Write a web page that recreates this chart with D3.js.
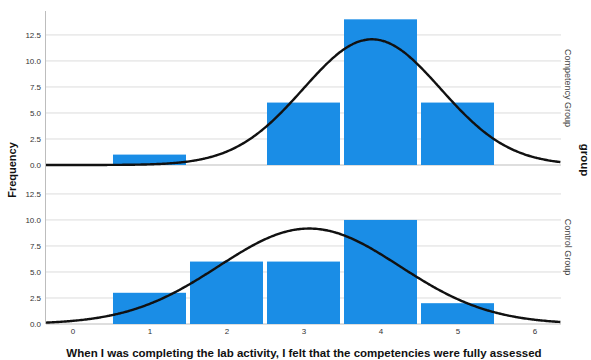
<!DOCTYPE html>
<html>
<head>
<meta charset="utf-8">
<script src="https://cdn.jsdelivr.net/npm/d3@7"></script>
<style>
  html, body { margin: 0; padding: 0; background: #fff; }
  svg { display: block; font-family: "Liberation Sans", Arial, sans-serif; }
</style>
</head>
<body>
<svg id="chart" width="591" height="360"></svg>
<script>
// Response scale values (x) and the frequency of each response per group
const categories = [1, 2, 3, 4, 5];
const groupNames = ["Competency Group", "Control Group"];
const competencyCounts = [1, 0, 6, 14, 6];
const controlCounts = [3, 6, 6, 10, 2];
const xTickValues = [0, 1, 2, 3, 4, 5, 6];
const yTickValues = [0, 2.5, 5, 7.5, 10, 12.5];

const xTitle = "When I was completing the lab activity, I felt that the competencies were fully assessed";
const yTitle = "Frequency";
const panelTitle = "group";

const svg = d3.select("#chart");
const plotLeft = 46, plotRight = 561;
const panels = [
  { name: groupNames[0], counts: competencyCounts, top: 11, bottom: 165 },
  { name: groupNames[1], counts: controlCounts, top: 170, bottom: 324 }
];

const xMin = -0.344, xMax = 6.344;
const x = d3.scaleLinear().domain([xMin, xMax]).range([plotLeft, plotRight]);
const barColor = "#1a8de6";

panels.forEach((p, i) => {
  const y = d3.scaleLinear().domain([0, 14.8]).range([p.bottom, p.top]);
  const g = svg.append("g");

  // horizontal gridlines
  g.selectAll("line.grid").data(yTickValues.filter(v => v > 0)).join("line")
    .attr("x1", plotLeft).attr("x2", plotRight)
    .attr("y1", d => y(d)).attr("y2", d => y(d))
    .attr("stroke", "#dcdcdc").attr("stroke-width", 1);

  // baseline
  g.append("line")
    .attr("x1", plotLeft).attr("x2", plotRight)
    .attr("y1", y(0)).attr("y2", y(0))
    .attr("stroke", "#bdbdbd").attr("stroke-width", 1);

  // y axis labels
  const yAxis = d3.axisLeft(y).tickValues(yTickValues).tickFormat(d3.format(".1f")).tickSize(0).tickPadding(5);
  const ya = g.append("g").attr("transform", `translate(${plotLeft},0)`).call(yAxis);
  ya.select(".domain").remove();
  ya.selectAll("text").attr("font-size", 8).attr("fill", "#333")
    .attr("font-family", "'Liberation Sans', Arial, sans-serif");

  // histogram bars
  const bars = categories.map((c, k) => ({ c, n: p.counts[k] })).filter(d => d.n > 0);
  g.selectAll("rect.bar").data(bars).join("rect")
    .attr("x", d => x(d.c - 0.5) + 2)
    .attr("width", d => x(d.c + 0.5) - x(d.c - 0.5) - 4)
    .attr("y", d => y(d.n))
    .attr("height", d => y(0) - y(d.n))
    .attr("fill", barColor);

  // fitted normal curve from the group's mean and standard deviation
  const n = d3.sum(p.counts);
  const mean = d3.sum(categories, (c, k) => c * p.counts[k]) / n;
  const variance = d3.sum(categories, (c, k) => p.counts[k] * (c - mean) ** 2) / (n - 1);
  const sd = Math.sqrt(variance);
  const dens = v => n * Math.exp(-0.5 * ((v - mean) / sd) ** 2) / (sd * Math.sqrt(2 * Math.PI));
  const xs = d3.range(xMin, xMax + 0.0001, 0.02);
  const line = d3.line().x(v => x(v)).y(v => y(dens(v))).curve(d3.curveBasis);
  g.append("path").datum(xs).attr("d", line)
    .attr("fill", "none").attr("stroke", "#111").attr("stroke-width", 2.4);

  // strip label on the right
  g.append("text")
    .attr("transform", `translate(${plotRight + 4},${(p.top + p.bottom) / 2}) rotate(90)`)
    .attr("text-anchor", "middle")
    .attr("font-size", 9).attr("fill", "#444")
    .text(p.name);
});

// continuous left axis line
svg.append("line")
  .attr("x1", plotLeft - 0.5).attr("x2", plotLeft - 0.5)
  .attr("y1", 11).attr("y2", 324)
  .attr("stroke", "#bdbdbd").attr("stroke-width", 1);

// x axis labels under the bottom panel
const xAxis = d3.axisBottom(x).tickValues(xTickValues).tickFormat(d3.format("d")).tickSize(0).tickPadding(4);
const xa = svg.append("g").attr("transform", "translate(0,324)").call(xAxis);
xa.select(".domain").remove();
xa.selectAll("text").attr("font-size", 8).attr("fill", "#333")
  .attr("font-family", "'Liberation Sans', Arial, sans-serif");

// axis titles
svg.append("text")
  .attr("x", 304).attr("y", 357)
  .attr("text-anchor", "middle")
  .attr("font-size", 11.5).attr("font-weight", "bold").attr("fill", "#111")
  .text(xTitle);

svg.append("text")
  .attr("transform", "translate(16,170) rotate(-90)")
  .attr("text-anchor", "middle")
  .attr("font-size", 11).attr("font-weight", "bold").attr("fill", "#111")
  .text(yTitle);

svg.append("text")
  .attr("transform", "translate(581,160) rotate(90)")
  .attr("text-anchor", "middle")
  .attr("font-size", 11.5).attr("font-weight", "bold").attr("fill", "#111")
  .text(panelTitle);
</script>
</body>
</html>
